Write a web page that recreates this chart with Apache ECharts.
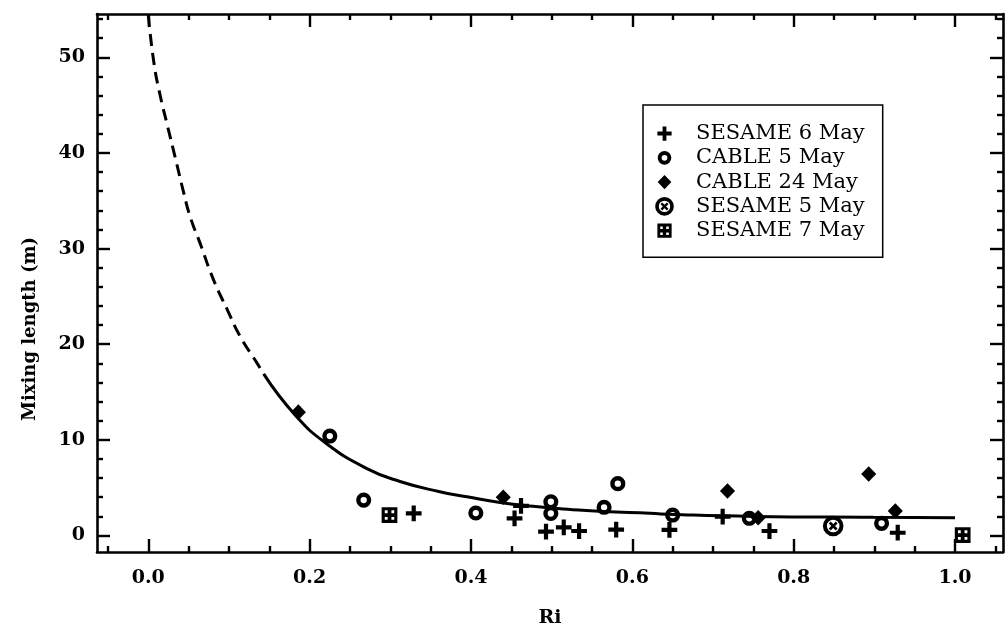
<!DOCTYPE html>
<html><head><meta charset="utf-8">
<script src="https://cdn.jsdelivr.net/npm/echarts@6/dist/echarts.min.js"></script>
<style>html,body{margin:0;padding:0;background:#fff}#c{width:1005px;height:623px}</style>
</head><body><div id="c"></div>
<script>
// ---- tick values ----
const xTickValues = [0, 0.2, 0.4, 0.6, 0.8, 1.0];
const xMinorTicks = [-0.05, 0.05, 0.1, 0.15, 0.25, 0.3, 0.35, 0.45, 0.5, 0.55, 0.65, 0.7, 0.75, 0.85, 0.9, 0.95, 1.05];
const yTickValues = [0, 10, 20, 30, 40, 50];
const yMinorTicks = [2, 4, 6, 8, 12, 14, 16, 18, 22, 24, 26, 28, 32, 34, 36, 38, 42, 44, 46, 48, 52, 54];

// ---- series names ----
const seriesNames = ['SESAME 6 May', 'CABLE 5 May', 'CABLE 24 May', 'SESAME 5 May', 'SESAME 7 May'];

// ---- data [Ri, mixing length] ----
const sesame6May = [[0.329,2.32],[0.454,1.80],[0.462,3.10],[0.493,0.40],[0.515,0.86],[0.534,0.47],[0.580,0.62],[0.646,0.58],[0.712,1.97],[0.770,0.47],[0.929,0.29]];
const cable5May = [[0.225,10.4],[0.267,3.70],[0.406,2.35],[0.499,3.53],[0.499,2.30],[0.565,2.95],[0.582,5.42],[0.650,2.14],[0.745,1.80],[0.909,1.27]];
const cable24May = [[0.186,12.9],[0.440,3.99],[0.718,4.65],[0.756,1.86],[0.893,6.43],[0.926,2.56]];
const sesame5May = [[0.849,0.99]];
const sesame7May = [[0.299,2.14],[1.0095,0.05]];

// fitted curve
const curveDashed = [[0,54.4],[0.007,49.4],[0.015,45.9],[0.023,43.1],[0.034,39.3],[0.044,35.8],[0.052,33.3],[0.064,30.6],[0.081,26.7],[0.098,23.6],[0.114,20.8],[0.135,18.0],[0.143,16.9]];
const curveSolid = [[0.143,16.9],[0.182,12.6],[0.221,9.6],[0.271,7.0],[0.312,5.65],[0.36,4.6],[0.395,4.05],[0.436,3.45],[0.477,3.05],[0.52,2.75],[0.564,2.5],[0.622,2.32],[0.651,2.2],[0.75,2.0],[0.899,1.9],[1.0,1.86]];

// ---- symbols (20x20 box, corner anchors keep sizes consistent) ----
const A = 'M0,0L0.01,0L0,0.01Z M20,20L19.99,20L20,19.99Z ';
const symPlus = 'path://' + A + 'M8,2.5H12V8H17.5V12H12V17.5H8V12H2.5V8H8Z';
const symRing = 'path://' + A + 'M2.8,10A7.2,7.2 0 1,1 17.2,10A7.2,7.2 0 1,1 2.8,10Z M7,10A3,3 0 1,0 13,10A3,3 0 1,0 7,10Z';
const symDiamond = 'path://' + A + 'M10,2.6L17.2,10L10,17.4L2.8,10Z';
const symCircX = 'path://' + A + 'M0.2,10A9.8,9.8 0 1,1 19.8,10A9.8,9.8 0 1,1 0.2,10Z M4,10A6,6 0 1,0 16,10A6,6 0 1,0 4,10Z M5.8,7.6L7.6,5.8L14.2,12.4L12.4,14.2Z M12.4,5.8L14.2,7.6L7.6,14.2L5.8,12.4Z';
const symSquare = 'path://' + A + 'M2.5,2.5H17.5V17.5H2.5Z M5.5,5.5V8.2H8.2V5.5Z M11.8,5.5V8.2H14.5V5.5Z M5.5,11.8V14.5H8.2V11.8Z M11.8,11.8V14.5H14.5V11.8Z';
const symbols = [symPlus, symRing, symDiamond, symCircX, symSquare];
const dataSets = [sesame6May, cable5May, cable24May, sesame5May, sesame7May];

const XMIN = -0.0636, XMAX = 1.0595, YMIN = -1.725, YMAX = 54.53;
const axisFont = {fontFamily: 'DejaVu Serif', fontWeight: 'bold', fontSize: 19, color: '#000'};
const lineW = 2.6;

function xAx(pos, major, withLabel, withLine) {
  return {
    type: 'value', position: pos, min: XMIN, max: XMAX, gridIndex: 0,
    splitLine: {show: false},
    axisLine: {show: withLine, onZero: false, lineStyle: {color: '#000', width: lineW}},
    axisTick: {show: true, inside: true, length: major ? 13 : 6, customValues: major ? xTickValues : xMinorTicks, lineStyle: {color: '#000', width: 2.4}},
    axisLabel: withLabel ? Object.assign({show: true, customValues: xTickValues, margin: 17, formatter: v => v.toFixed(1)}, axisFont) : {show: false},
    name: withLabel ? 'Ri' : '', nameLocation: 'middle', nameGap: 57,
    nameTextStyle: axisFont
  };
}
function yAx(pos, major, withLabel, withLine) {
  return {
    type: 'value', position: pos, min: YMIN, max: YMAX, gridIndex: 0,
    splitLine: {show: false},
    axisLine: {show: withLine, onZero: false, lineStyle: {color: '#000', width: lineW}},
    axisTick: {show: true, inside: true, length: major ? 13 : 6, customValues: major ? yTickValues : yMinorTicks, lineStyle: {color: '#000', width: 2.4}},
    axisLabel: withLabel ? Object.assign({show: true, customValues: yTickValues, margin: 12, formatter: v => String(v)}, axisFont) : {show: false},
    name: withLabel ? 'Mixing length (m)' : '', nameLocation: 'middle', nameGap: 58,
    nameTextStyle: Object.assign({padding: [0, 92, 0, 0]}, axisFont, {fontSize: 18})
  };
}

const series = [
  {type: 'line', name: 'curveDashed', data: curveDashed, smooth: true, showSymbol: false, symbol: 'none',
   lineStyle: {color: '#000', width: 3, type: [12, 7]}, z: 2, silent: true},
  {type: 'line', name: 'curveSolid', data: curveSolid, smooth: true, showSymbol: false, symbol: 'none',
   lineStyle: {color: '#000', width: 3}, z: 2, silent: true}
];
seriesNames.forEach((n, i) => {
  series.push({type: 'scatter', name: n, data: dataSets[i], symbol: symbols[i], symbolSize: 21,
    itemStyle: {color: '#000', opacity: 1}, z: 3});
});

const chart = echarts.init(document.getElementById('c'), null, {renderer: 'canvas'});
chart.setOption({
  animation: false,
  backgroundColor: '#fff',
  grid: {left: 97, top: 14, width: 906, height: 538, containLabel: false, outerBoundsMode: 'none'},
  xAxis: [xAx('bottom', true, true, true), xAx('bottom', false, false, false), xAx('top', true, false, true), xAx('top', false, false, false)],
  yAxis: [yAx('left', true, true, true), yAx('left', false, false, false), yAx('right', true, false, true), yAx('right', false, false, false)],
  legend: {
    orient: 'vertical', left: 643, top: 105,
    data: seriesNames.map((n, i) => ({name: n, icon: symbols[i]})),
    itemWidth: 19, itemHeight: 19, itemGap: 3.3,
    padding: [18, 18, 16, 12],
    borderColor: '#000', borderWidth: 1.5, borderRadius: 0,
    backgroundColor: '#fff',
    selectedMode: false,
    textStyle: {fontFamily: 'DejaVu Serif', fontSize: 21, color: '#000', lineHeight: 19, height: 19, padding: [0, 0, 0, 17]},
    itemStyle: {color: '#000', borderWidth: 0}
  },
  series: series
});
</script>
</body></html>
